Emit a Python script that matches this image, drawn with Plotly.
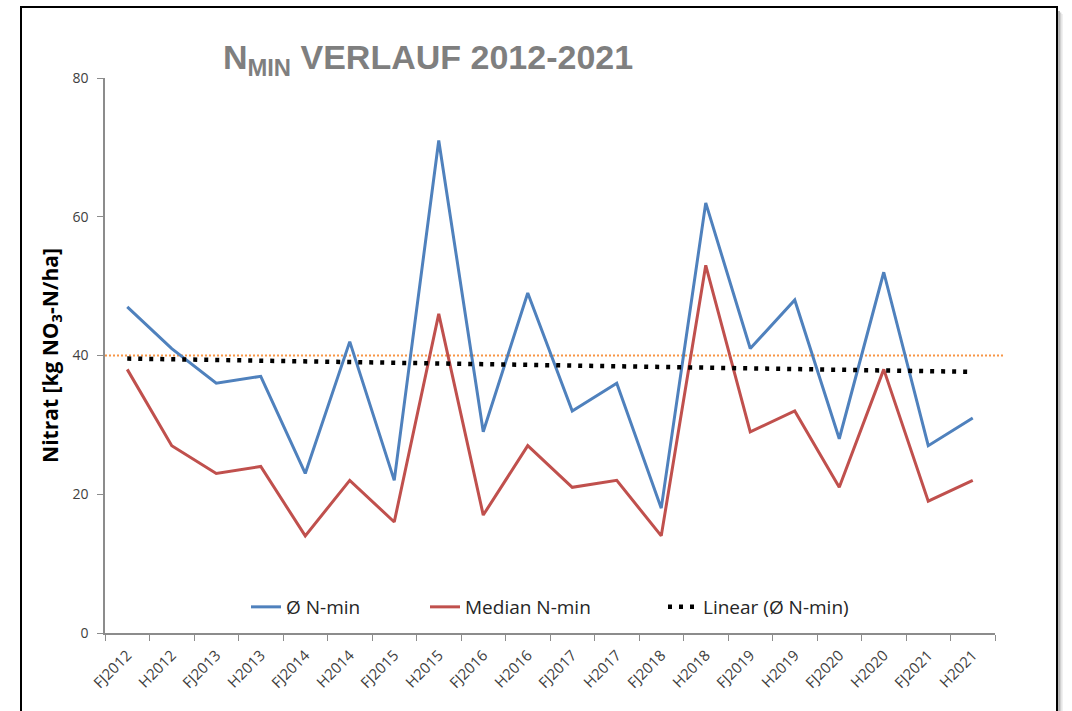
import numpy as np
import plotly.graph_objects as go

categories = ["FJ2012", "H2012", "FJ2013", "H2013", "FJ2014", "H2014", "FJ2015", "H2015",
              "FJ2016", "H2016", "FJ2017", "H2017", "FJ2018", "H2018", "FJ2019", "H2019",
              "FJ2020", "H2020", "FJ2021", "H2021"]
mean_nmin = [47, 41, 36, 37, 23, 42, 22, 71, 29, 49, 32, 36, 18, 62, 41, 48, 28, 52, 27, 31]
median_nmin = [38, 27, 23, 24, 14, 22, 16, 46, 17, 27, 21, 22, 14, 53, 29, 32, 21, 38, 19, 22]
limit_value = 40
y_ticks = [0, 20, 40, 60, 80]

# Linear trend of the mean series (as Excel's trendline)
idx = np.arange(len(mean_nmin))
slope, intercept = np.polyfit(idx, mean_nmin, 1)
trend = list(intercept + slope * idx)

W, H = 1072, 711
L, R, T, B = 105, 77, 78, 78
pw, ph = W - L - R, H - T - B

def px(x):
    return (x - L) / pw

def py(y):
    return (H - B - y) / ph

FONT = "Open Sans, sans-serif"

fig = go.Figure()
fig.add_trace(go.Scatter(x=categories, y=mean_nmin, mode="lines", name="Ø N-min",
                         line=dict(color="#4F81BD", width=3), legend="legend"))
fig.add_trace(go.Scatter(x=categories, y=median_nmin, mode="lines", name="Median N-min",
                         line=dict(color="#C0504D", width=3), legend="legend2"))
fig.add_trace(go.Scatter(x=categories, y=trend, mode="lines", name="Linear (Ø N-min)",
                         line=dict(color="black", width=4.5, dash="4px,7px"), legend="legend3"))

# limit line at 40
fig.add_shape(type="line", xref="paper", yref="y", x0=0, x1=px(1003), y0=limit_value, y1=limit_value,
              line=dict(color="#F79646", width=2, dash="2px,2px"), layer="below")

# frame with shadow
for off, col in [(5, "#ececec"), (3.5, "#d0d0d0"), (2, "#a8a8a8")]:
    fig.add_shape(type="line", xref="paper", yref="paper",
                  x0=px(1057 + off), x1=px(1057 + off), y0=py(712), y1=py(9 + off),
                  line=dict(color=col, width=1.6), layer="below")
fig.add_shape(type="rect", xref="paper", yref="paper",
              x0=px(21), x1=px(1057), y0=py(720), y1=py(7),
              line=dict(color="black", width=2), fillcolor="rgba(0,0,0,0)", layer="below")

leg_common = dict(orientation="h", y=py(607), yanchor="middle", xanchor="left",
                  font=dict(size=19, color="#262626", family=FONT),
                  bgcolor="rgba(0,0,0,0)", borderwidth=0)
fig.update_layout(
    width=W, height=H,
    margin=dict(l=L, r=R, t=T, b=B),
    paper_bgcolor="white", plot_bgcolor="white",
    font=dict(family=FONT, color="#595959"),
    title=dict(text="N<sub>MIN</sub> VERLAUF 2012-2021", x=428 / W, xanchor="center",
               xref="container", y=1 - 57 / H, yanchor="middle", yref="container",
               font=dict(size=34, color="#7F7F7F", family="Liberation Sans, Arial, sans-serif",
                         weight="bold")),
    showlegend=True,
    legend=dict(x=px(290 - 44), **leg_common),
    legend2=dict(x=px(469 - 44), **leg_common),
    legend3=dict(x=px(707 - 44), **leg_common),
)
fig.update_xaxes(type="category", range=[-0.5, len(categories) - 0.5],
                 showline=True, linecolor="#8C8C8C", linewidth=1.5,
                 ticks="outside", tickson="boundaries", ticklen=6, tickcolor="#8C8C8C",
                 tickangle=-45, ticklabelstandoff=6,
                 tickfont=dict(size=15, color="#404040", family=FONT),
                 showgrid=False, zeroline=False)
fig.update_yaxes(range=[0, 80], tickvals=y_ticks, showline=True, linecolor="#8C8C8C", linewidth=1.5,
                 ticks="outside", ticklen=6, tickcolor="#8C8C8C", ticklabelstandoff=6,
                 tickfont=dict(size=14, color="#404040", family=FONT),
                 showgrid=False, zeroline=False,
                 title=dict(text="Nitrat [kg NO<sub>3</sub>-N/ha]", standoff=8,
                            font=dict(size=21, color="black", family=FONT, weight="bold")))

fig.write_html("out.html", config={"displayModeBar": False},
               post_script="document.body.style.margin='0';")
